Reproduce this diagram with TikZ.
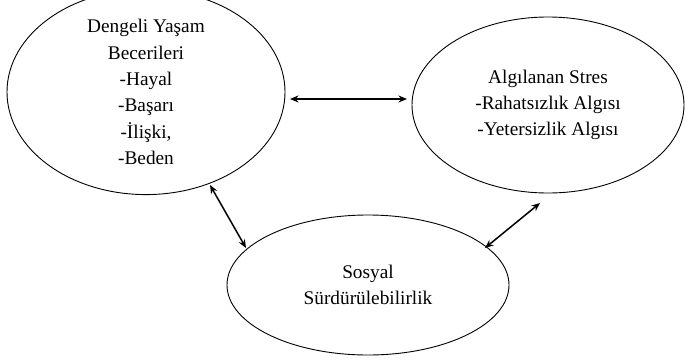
\documentclass[tikz,border=0pt]{standalone}
\usepackage{fontspec}
\setmainfont{Liberation Serif}
\usetikzlibrary{shapes.geometric,arrows.meta}
\begin{document}
\begin{tikzpicture}[x=1pt,y=1pt,
  bubble/.style={draw,ellipse,line width=0.9pt,inner sep=0pt,align=center,
    font=\fontsize{19.3}{26.3}\selectfont},
  link/.style={{Stealth[length=8.5pt,width=7pt]}-{Stealth[length=8.5pt,width=7pt]},line width=1.5pt}]
\useasboundingbox (0,0) rectangle (685,360);
\node[bubble,minimum width=278,minimum height=180] (e1) at (146,268)
  {Dengeli Yaşam\\Becerileri\\-Hayal\\-Başarı\\-İlişki,\\-Beden};
\node[bubble,minimum width=272,minimum height=176] (e2) at (548,255)
  {Algılanan Stres\\-Rahatsızlık Algısı\\-Yetersizlik Algısı};
\node[bubble,minimum width=282,minimum height=140] (e3) at (368,75)
  {Sosyal\\Sürdürülebilirlik};
\coordinate (h1) at (290,261);
\coordinate (h2) at (407,261);
\coordinate (l1) at (210,175);
\coordinate (l2) at (246,112);
\coordinate (r1) at (485,112);
\coordinate (r2) at (540,157);
\draw[link] (h1) -- (h2);
\draw[link] (l1) -- (l2);
\draw[link] (r1) -- (r2);
\end{tikzpicture}
\end{document}
